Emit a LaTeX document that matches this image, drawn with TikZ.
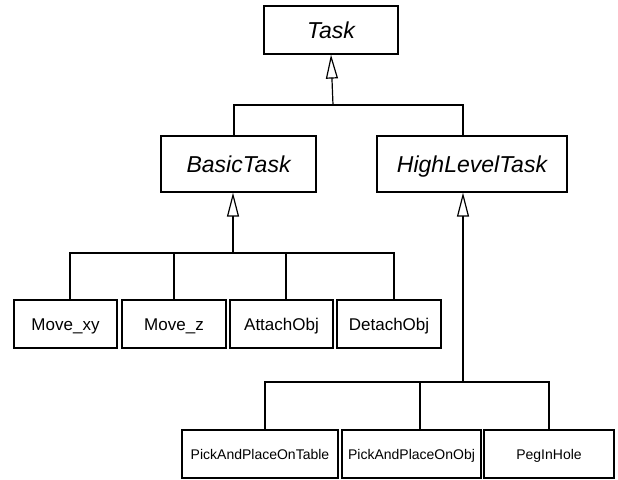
\documentclass[tikz,border=0pt]{standalone}
\usepackage{fontspec}
\setmainfont{Liberation Sans}
\usetikzlibrary{arrows.meta}

\begin{document}
\begin{tikzpicture}[x=1pt,y=-1pt,line width=1.2pt,line cap=rect,
    cls/.style={draw,rectangle,inner sep=0pt,minimum height=48pt,text depth=0pt},
    abstr/.style={cls,minimum height=56pt,text height=16.5pt,
      font=\fontsize{23}{27}\selectfont\itshape},
    leaf/.style={cls,text height=12.2pt,font=\fontsize{17}{20}\selectfont},
    small/.style={cls,text height=10pt,font=\fontsize{14}{17}\selectfont},
    inherit/.style={-{Triangle[open,width=12pt,length=24pt]}}]
    \useasboundingbox (0,0) rectangle (618,479);
    % abstrakte Klassen
    \node[abstr,minimum width=134pt,minimum height=48pt] (task) at (331,30) {Task};
    \node[abstr,minimum width=155pt] (basic) at (238.5,164) {BasicTask};
    \node[abstr,minimum width=190pt] (highlevel) at (472,164) {HighLevelTask};
    % einfache Aufgaben
    \node[leaf,minimum width=103pt] (movexy) at (65.5,324) {Move\_xy};
    \node[leaf,minimum width=104pt] (movez) at (174,324) {Move\_z};
    \node[leaf,minimum width=103pt] (attach) at (281.5,324) {AttachObj};
    \node[leaf,minimum width=104pt] (detach) at (389,324) {DetachObj};
    % komplexe Aufgaben
    \node[small,minimum width=156pt] (pptable) at (260,454) {PickAndPlaceOnTable};
    \node[small,minimum width=139pt] (ppobj) at (411.5,454) {PickAndPlaceOnObj};
    \node[small,minimum width=130pt] (peg) at (549,454) {PegInHole};
    % Vererbung
    \coordinate (bustask) at (333,105);
    \coordinate (busbasic) at (233,253);
    \coordinate (bushigh) at (463,382);
    \draw[inherit] (bustask) -- (task.south);
    \draw ([xshift=-4.5pt]basic.north) |- (bustask) -| ([xshift=-9pt]highlevel.north);
    \draw[inherit] (busbasic) -- ([xshift=-5.5pt]basic.south);
    \foreach \child/\dx in {movexy/4.5,movez/0,attach/4.5,detach/5}
      \draw ([xshift=\dx pt]\child.north) |- (busbasic);
    \draw[inherit] (bushigh) -- ([xshift=-9pt]highlevel.south);
    \foreach \child/\dx in {pptable/5,ppobj/8.5,peg/0}
      \draw ([xshift=\dx pt]\child.north) |- (bushigh);
\end{tikzpicture}
\end{document}
